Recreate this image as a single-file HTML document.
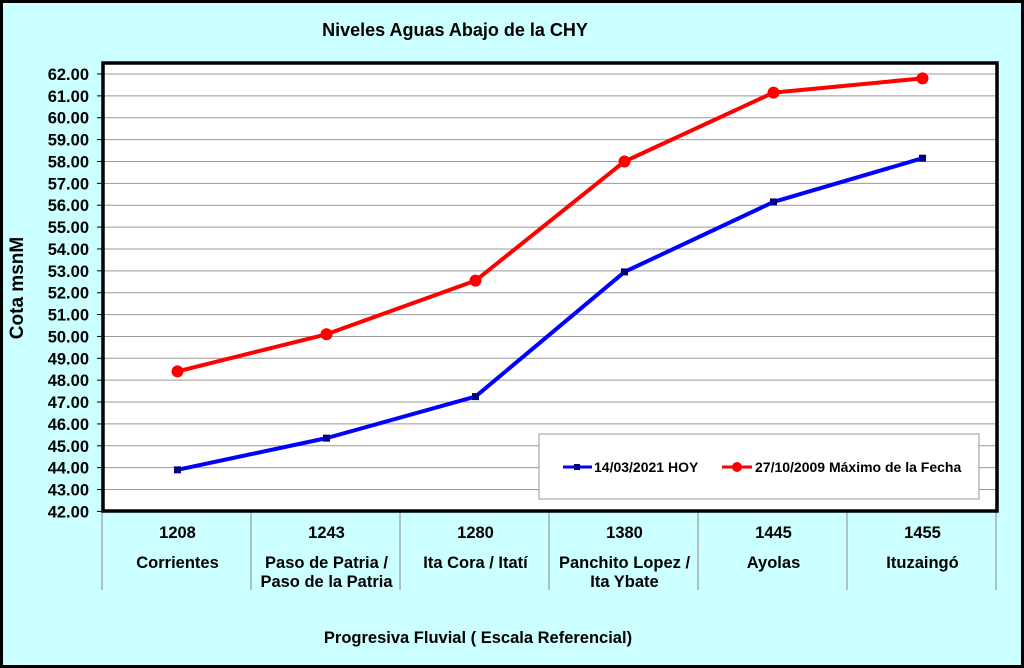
<!DOCTYPE html>
<html><head><meta charset="utf-8"><style>
body{margin:0;background:#fff}
svg{display:block;font-family:"Liberation Sans",Arial,sans-serif;font-weight:bold}
</style></head><body>
<svg width="1024" height="668">
<rect x="1.5" y="1.5" width="1021" height="665" fill="#ccffff" stroke="#000" stroke-width="3"/>
<text x="455" y="36" font-size="18" text-anchor="middle">Niveles Aguas Abajo de la CHY</text>
<rect x="103" y="63" width="894" height="448" fill="#fff"/>
<g id="grid"></g>
<g id="cats"></g>
<g id="series"></g>
<rect x="103" y="63" width="894" height="448" fill="none" stroke="#000" stroke-width="3.5"/>
<text transform="translate(23,288) rotate(-90)" font-size="19" text-anchor="middle">Cota msnM</text>
<text x="478" y="643" font-size="16.5" text-anchor="middle">Progresiva Fluvial ( Escala Referencial)</text>
<g>
<rect x="539" y="434" width="440" height="65" fill="#fff" stroke="#999"/>
<g>
<line x1="563" y1="467" x2="592" y2="467" stroke="#0000ff" stroke-width="3"/>
<rect x="574" y="464" width="6" height="6" fill="#000080"/>
<text x="594" y="472" font-size="14">14/03/2021 HOY</text></g>
<g>
<line x1="722" y1="467" x2="752" y2="467" stroke="#ff0000" stroke-width="3"/>
<circle cx="737" cy="467" r="5" fill="#ff0000"/>
<text x="755" y="472" font-size="14">27/10/2009 Máximo de la Fecha</text></g>
</g>
</svg>
<script>
const codes=["1208","1243","1280","1380","1445","1455"];
const names=[["Corrientes"],["Paso de Patria /","Paso de la Patria"],["Ita Cora / Itatí"],["Panchito Lopez /","Ita Ybate"],["Ayolas"],["Ituzaingó"]];
const hoy=[43.9,45.35,47.25,52.95,56.15,58.15];
const maximo=[48.4,50.1,52.55,58.0,61.15,61.8];
const yMin=42,yMax=62;
const NS="http://www.w3.org/2000/svg";
const x0=103,x1=997,yTop=74,yBot=511.4;
const cw=(x1-x0)/codes.length;
function X(i){return x0+cw*(i+0.5);}
function Y(v){return yBot-(v-yMin)*(yBot-yTop)/(yMax-yMin);}
function mk(t,a,p){const e=document.createElementNS(NS,t);for(const k in a)e.setAttribute(k,a[k]);p.appendChild(e);return e;}
const grid=document.getElementById('grid');
for(let v=yMin;v<=yMax;v++){
  if(v>yMin){const l=mk('line',{x1:x0,x2:x1,y1:Y(v),y2:Y(v),stroke:'#999','stroke-width':1},grid);
  
  }
  mk('line',{x1:x0-6,x2:x0,y1:Y(v),y2:Y(v),stroke:'#000'},grid);
  const t=mk('text',{x:x0-14,y:Y(v)+6,'font-size':16.5,'text-anchor':'end'},grid);t.textContent=v.toFixed(2);
  
  
}
const cats=document.getElementById('cats');
for(let i=0;i<=codes.length;i++){mk('line',{x1:x0+cw*i-1,x2:x0+cw*i-1,y1:511,y2:590,stroke:'#888'},cats);}
codes.forEach((c,i)=>{
  const t=mk('text',{x:X(i),y:538,'font-size':16.5,'text-anchor':'middle'},cats);t.textContent=c;
  
  
  names[i].forEach((n,j)=>{const s=mk('text',{x:X(i),y:568+j*19,'font-size':16.5,'text-anchor':'middle'},cats);s.textContent=n;
  
  });
});
const ser=document.getElementById('series');
function line(data,col,name){
  const p=mk('polyline',{points:data.map((v,i)=>X(i)+','+Y(v)).join(' '),fill:'none',stroke:col,'stroke-width':4,'stroke-linejoin':'round'},ser);
  
  
}
line(maximo,'#ff0000','maximo');
line(hoy,'#0000ff','hoy');
maximo.forEach((v,i)=>{const c=mk('circle',{cx:X(i),cy:Y(v),r:6,fill:'#ff0000'},ser);

});
hoy.forEach((v,i)=>{const r=mk('rect',{x:X(i)-3.5,y:Y(v)-3.5,width:7,height:7,fill:'#000080'},ser);

});
</script>
</body></html>
